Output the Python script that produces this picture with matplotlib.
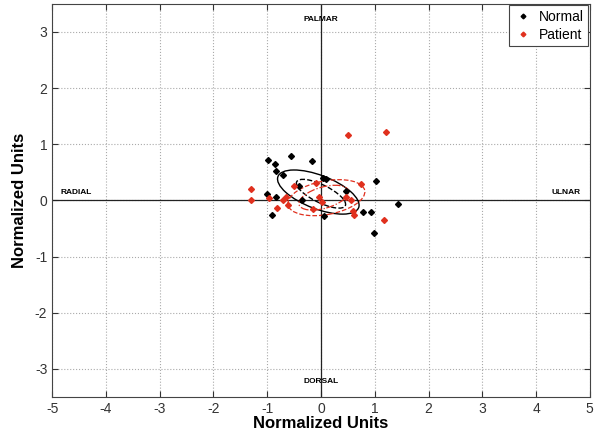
import matplotlib.pyplot as plt
from matplotlib.patches import Ellipse

plt.rcParams['font.family'] = ['Liberation Sans', 'DejaVu Sans']
plt.rcParams['axes.unicode_minus'] = False

# Normal subjects
normal_x = [-0.99, -0.85, -0.56, -0.17, -0.84, -0.70, 0.04, 0.09, -0.41, 1.03,
            0.46, -1.01, -0.84, -0.35, 1.44, -0.92, 0.06, 0.79, 0.93, 0.99]
normal_y = [0.72, 0.65, 0.80, 0.70, 0.52, 0.45, 0.40, 0.39, 0.26, 0.34,
            0.16, 0.12, 0.06, 0.00, -0.06, -0.25, -0.27, -0.21, -0.21, -0.58]

# Patients
patient_x = [0.50, 1.20, -1.31, -1.31, -0.96, -0.82, -0.70, -0.66, -0.61, -0.51,
             -0.15, -0.09, 0.01, -0.03, 0.74, 0.46, 0.56, 0.60, 0.62, 1.18]
patient_y = [1.17, 1.22, 0.20, 0.00, 0.04, -0.14, 0.01, 0.07, -0.08, 0.25,
             -0.15, 0.32, -0.03, 0.07, 0.29, 0.07, 0.01, -0.18, -0.25, -0.34]

# confidence ellipses: center x, center y, width, height, angle
normal_ell = [(-0.05, 0.15, 1.6, 0.6, -20), (0.0, 0.12, 1.0, 0.32, -25)]
patient_ell = [(0.10, 0.05, 1.45, 0.6, 10), (0.05, 0.05, 0.95, 0.38, 15)]

fig = plt.figure(figsize=(6, 4.33), dpi=100)
ax = fig.add_axes([0.087, 0.083, 0.896, 0.908])

ax.grid(True, ls=':', color='#aaaaaa', lw=0.8, zorder=0)
ax.axhline(0, color='#222222', lw=0.9, zorder=2)
ax.axvline(0, color='#222222', lw=0.9, zorder=2)

ax.plot(normal_x, normal_y, 'D', color='black', ms=3, ls='none', label='Normal', zorder=4)
ax.plot(patient_x, patient_y, 'D', color='#e0301e', ms=3, ls='none', label='Patient', zorder=4)

for (cx, cy, w, h, a), ls in zip(normal_ell, ['-', '--']):
    ax.add_patch(Ellipse((cx, cy), w, h, angle=a, fill=False, ec='black', lw=1.0, ls=ls, zorder=3))
for (cx, cy, w, h, a), ls in zip(patient_ell, ['--', '-.']):
    ax.add_patch(Ellipse((cx, cy), w, h, angle=a, fill=False, ec='#e0301e', lw=0.9, ls=ls, zorder=3))

ax.text(0, 3.23, 'PALMAR', ha='center', va='center', fontsize=6, fontweight='bold')
ax.text(0, -3.23, 'DORSAL', ha='center', va='center', fontsize=6, fontweight='bold')
ax.text(-4.55, 0.15, 'RADIAL', ha='center', va='center', fontsize=6, fontweight='bold')
ax.text(4.55, 0.15, 'ULNAR', ha='center', va='center', fontsize=6, fontweight='bold')

ax.set_xlim(-5, 5)
ax.set_ylim(-3.5, 3.5)
ax.set_xticks(range(-5, 6))
ax.set_yticks(range(-3, 4))
ax.tick_params(direction='in', labelsize=10, top=True, right=True, length=4, colors='#333333')
for s in ax.spines.values():
    s.set_linewidth(0.8)
    s.set_color('#444444')

ax.set_xlabel('Normalized Units', fontsize=12, fontweight='bold', labelpad=0)
ax.set_ylabel('Normalized Units', fontsize=12, fontweight='bold', labelpad=6)

leg = ax.legend(loc='upper right', fontsize=10, handletextpad=0.4, borderaxespad=0.1,
                fancybox=False, edgecolor='#444444', framealpha=1, handlelength=1.4,
                labelspacing=0.25, borderpad=0.35, markerscale=0.8)
leg.get_frame().set_linewidth(0.8)
leg.set_zorder(5)

fig.savefig('out.png', dpi=100)
